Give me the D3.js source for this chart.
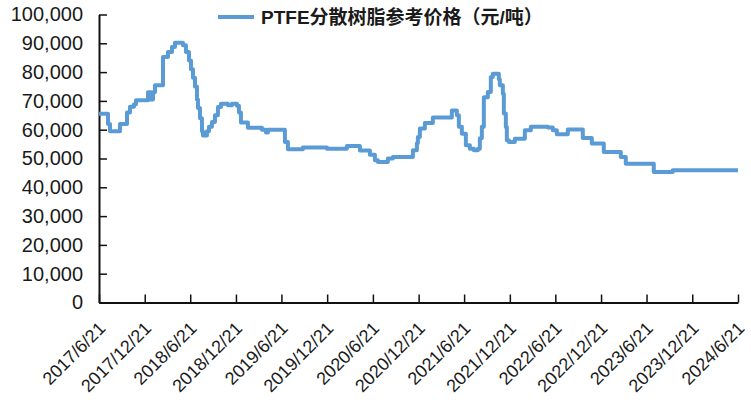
<!DOCTYPE html>
<html>
<head>
<meta charset="utf-8">
<script src="https://cdn.jsdelivr.net/npm/d3@7"></script>
<style>
  body { margin: 0; background: #fff; }
  svg text { font-family: "Liberation Sans", Arial, "Noto Sans CJK SC", sans-serif; fill: #1a1a1a; }
</style>
</head>
<body>
<div id="chart"></div>
<script>
// series name
const seriesName = "PTFE分散树脂参考价格（元/吨）";

// step points (date of change, price in yuan/ton)
const dates = [
  "2017-06-21", "2017-07-27", "2017-08-04", "2017-09-13", "2017-10-11", "2017-10-23",
  "2017-11-08", "2017-11-16", "2018-01-03", "2018-01-15", "2018-01-23", "2018-01-31",
  "2018-03-04", "2018-03-24", "2018-04-09", "2018-04-21", "2018-05-23", "2018-06-04",
  "2018-06-16", "2018-06-24", "2018-07-02", "2018-07-10", "2018-07-18", "2018-07-22",
  "2018-07-30", "2018-08-07", "2018-08-11", "2018-08-27", "2018-09-04", "2018-09-16",
  "2018-09-28", "2018-10-10", "2018-10-22", "2018-11-19", "2018-12-05", "2018-12-25",
  "2019-01-02", "2019-01-10", "2019-02-07", "2019-04-04", "2019-04-20", "2019-04-28",
  "2019-07-05", "2019-07-17", "2019-09-15", "2019-12-20", "2020-03-09", "2020-04-30",
  "2020-06-09", "2020-06-29", "2020-07-11", "2020-08-20", "2020-09-09", "2020-11-16",
  "2020-11-28", "2020-12-14", "2020-12-18", "2020-12-26", "2021-01-15", "2021-02-16",
  "2021-05-03", "2021-05-23", "2021-05-31", "2021-06-12", "2021-06-28", "2021-07-14",
  "2021-07-30", "2021-08-15", "2021-08-23", "2021-08-31", "2021-09-08", "2021-09-24",
  "2021-10-06", "2021-10-14", "2021-11-07", "2021-11-11", "2021-11-23", "2021-11-27",
  "2021-12-05", "2021-12-09", "2021-12-17", "2022-01-10", "2022-02-19", "2022-03-15",
  "2022-05-22", "2022-06-11", "2022-06-27", "2022-08-10", "2022-10-09", "2022-11-14",
  "2023-01-01", "2023-03-10", "2023-03-30", "2023-07-20", "2023-10-04", "2024-06-21"
];
const prices = [
  65500, 62000, 59500, 62000, 66000, 68000,
  68800, 70200, 73000, 70500, 73000, 75400,
  85200, 87000, 88700, 90200, 89300, 87000,
  84000, 81000, 78000, 75000, 70500, 67500,
  64000, 59500, 58000, 59500, 61000, 62700,
  65000, 67900, 69000, 68500, 69000, 68300,
  66000, 62500, 60700, 60000, 59000, 60000,
  55700, 53200, 53800, 53400, 54300, 52800,
  51300, 49400, 48800, 50000, 50500, 50500,
  52900, 55300, 57500, 60400, 62300, 64200,
  66700, 65000, 61000, 58600, 54600, 53400,
  52900, 53400, 57000, 61000, 71300, 73100,
  78300, 79400, 77500, 75400, 72500, 65600,
  60900, 56300, 55700, 56900, 59800, 61000,
  60800, 59800, 58400, 60100, 57100, 55200,
  52300, 50500, 48200, 45300, 45900, 45900
];

// axis ticks
const yTicks = [0, 10000, 20000, 30000, 40000, 50000, 60000, 70000, 80000, 90000, 100000];
const xTickLabels = [
  "2017/6/21", "2017/12/21", "2018/6/21", "2018/12/21", "2019/6/21", "2019/12/21",
  "2020/6/21", "2020/12/21", "2021/6/21", "2021/12/21", "2022/6/21", "2022/12/21",
  "2023/6/21", "2023/12/21", "2024/6/21"
];

const width = 751, height = 403;
const plotLeft = 99, plotRight = 738, plotTop = 14.5, plotBottom = 302.5;
const lineColor = "#5b9bd5";

const parse = d3.timeParse("%Y-%m-%d");
const parseTick = d3.timeParse("%Y/%m/%d");
const data = dates.map((d, i) => ({ date: parse(d), value: prices[i] }));
const tickDates = xTickLabels.map(parseTick);

const svg = d3.select("#chart").append("svg")
  .attr("width", width)
  .attr("height", height);

const x = d3.scaleTime()
  .domain([tickDates[0], tickDates[tickDates.length - 1]])
  .range([plotLeft, plotRight]);

const y = d3.scaleLinear()
  .domain([0, 100000])
  .range([plotBottom, plotTop]);

// y axis
const yAxis = svg.append("g")
  .attr("transform", `translate(${plotLeft},0)`)
  .call(d3.axisLeft(y).tickValues(yTicks).tickFormat(d3.format(",")).tickSizeInner(-8).tickSizeOuter(0).tickPadding(16));
yAxis.select(".domain").attr("stroke", "#111").attr("stroke-width", 2);
yAxis.selectAll(".tick line").attr("stroke", "#111").attr("stroke-width", 1.5);
yAxis.selectAll(".tick text").attr("font-size", 20).attr("fill", "#1a1a1a");

// x axis
const xAxis = svg.append("g")
  .attr("transform", `translate(0,${plotBottom})`)
  .call(d3.axisBottom(x).tickValues(tickDates).tickFormat((d, i) => xTickLabels[i]).tickSizeInner(-8).tickSizeOuter(0));
xAxis.select(".domain").attr("stroke", "#111").attr("stroke-width", 2);
xAxis.selectAll(".tick line").attr("stroke", "#111").attr("stroke-width", 1.5);
xAxis.selectAll(".tick text")
  .attr("font-size", 18)
  .attr("fill", "#1a1a1a")
  .attr("text-anchor", "end")
  .attr("dy", null)
  .attr("y", null)
  .attr("transform", "translate(7,27) rotate(-45)");

// price line
const line = d3.line()
  .x(d => x(d.date))
  .y(d => y(d.value))
  .curve(d3.curveStepAfter);

svg.append("path")
  .datum(data)
  .attr("fill", "none")
  .attr("stroke", lineColor)
  .attr("stroke-width", 4)
  .attr("stroke-linejoin", "round")
  .attr("d", line);

// legend
const legend = svg.append("g");
legend.append("line")
  .attr("x1", 218).attr("x2", 254)
  .attr("y1", 17).attr("y2", 17)
  .attr("stroke", lineColor)
  .attr("stroke-width", 4);
legend.append("text")
  .attr("x", 261)
  .attr("y", 24)
  .attr("font-size", 19)
  .attr("font-weight", "bold")
  .text(seriesName);
</script>
</body>
</html>
